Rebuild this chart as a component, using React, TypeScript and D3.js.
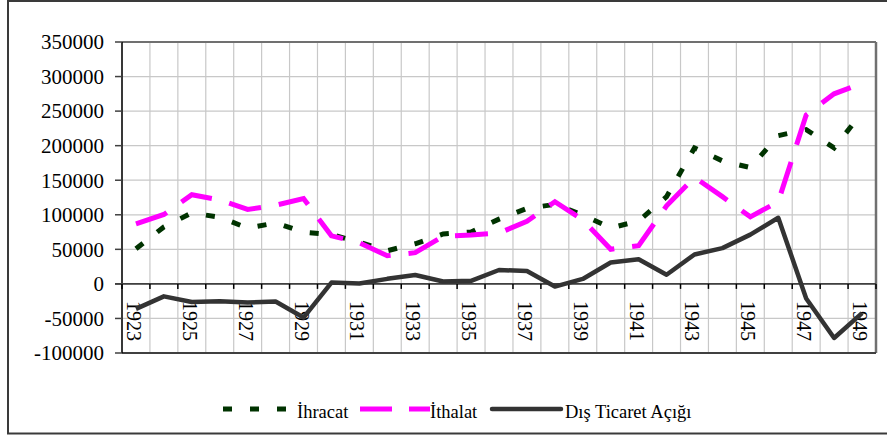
import React from "react";
import * as d3 from "d3";

const years: number[] = [
  1923, 1924, 1925, 1926, 1927, 1928, 1929, 1930, 1931, 1932, 1933, 1934, 1935, 1936,
  1937, 1938, 1939, 1940, 1941, 1942, 1943, 1944, 1945, 1946, 1947, 1948, 1949,
];
const ihracat: number[] = [
  50790, 82435, 102700, 96437, 80749, 88278, 74827, 71380, 60200, 48013, 58065, 72232,
  75000, 93647, 109214, 115024, 99643, 80904, 91056, 126115, 196734, 177952, 168264,
  214558, 223301, 196806, 247825,
];
const ithalat: number[] = [
  86872, 100462, 128953, 121411, 107752, 113710, 123558, 69540, 59500, 40718, 45177,
  68781, 70600, 73565, 90538, 118929, 92503, 50035, 55394, 112879, 154202, 126192, 97006,
  118923, 244360, 275053, 290224,
];
const disTicaret: number[] = [
  -36082, -18027, -26253, -24974, -27003, -25432, -48731, 1840, 700, 7295, 12888, 3451,
  4400, 20082, 18676, -3905, 7140, 30869, 35662, 13236, 42532, 51760, 71258, 95635,
  -21059, -78247, -42399,
];
const yTicks: number[] = [-100000, -50000, 0, 50000, 100000, 150000, 200000, 250000, 300000, 350000];
const xLabelYears: number[] = years.filter((_, i) => i % 2 === 0);
const legendLabels: string[] = ["İhracat", "İthalat", "Dış Ticaret Açığı"];

const W = 887;
const H = 437;
const left = 122;
const right = 876;
const top = 42;
const bottom = 353;
const fontStyle = { fontFamily: '"Liberation Serif", "Times New Roman", serif' };

export default function App() {
  const x = d3.scaleBand<number>().domain(years).range([left, right]).padding(0);
  const y = d3.scaleLinear().domain([-100000, 350000]).range([bottom, top]);
  const bw = x.bandwidth();
  const cx = (yr: number) => (x(yr) as number) + bw / 2;

  const mkLine = (vals: number[]) =>
    d3
      .line<number>()
      .x((_, i) => cx(years[i]))
      .y((v) => y(v))(vals) as string;

  const y0 = y(0);
  const boundaries = years.map((yr) => x(yr) as number).concat([right]);

  return (
    <svg
      width={W}
      height={H}
      style={{ position: "absolute", left: 0, top: 0, background: "#fff" }}
    >
      <rect x={0} y={0} width={W} height={H} fill="#fff" />
      {/* outer frame */}
      <rect x={8} y={1} width={890} height={432.5} fill="none" stroke="#3a3a3a" strokeWidth={2} />

      {/* horizontal gridlines */}
      {yTicks.map((t) => (
        <line key={"hg" + t} x1={left} x2={right} y1={y(t)} y2={y(t)} stroke="#c8c8c8" strokeWidth={1.2} />
      ))}
      {/* vertical gridlines */}
      {boundaries.map((bx, i) => (
        <line key={"vg" + i} x1={bx} x2={bx} y1={top} y2={bottom} stroke="#c8c8c8" strokeWidth={1.2} />
      ))}

      {/* plot border */}
      <line x1={left} x2={right} y1={top} y2={top} stroke="#707070" strokeWidth={2} />
      <line x1={right} x2={right} y1={top} y2={bottom} stroke="#707070" strokeWidth={2.5} />
      <line x1={left} x2={right} y1={bottom} y2={bottom} stroke="#404040" strokeWidth={2} />

      {/* y axis */}
      <line x1={left} x2={left} y1={top} y2={bottom} stroke="#000" strokeWidth={1.5} />
      {yTicks.map((t) => (
        <g key={"yt" + t}>
          <line x1={left - 7} x2={left} y1={y(t)} y2={y(t)} stroke="#404040" strokeWidth={1.5} />
          <text x={104} y={y(t)} dy="0.35em" textAnchor="end" fontSize={21} fill="#000" style={fontStyle}>
            {t}
          </text>
        </g>
      ))}

      {/* x axis at zero */}
      <line x1={left - 7} x2={right} y1={y0} y2={y0} stroke="#404040" strokeWidth={1.8} />
      {boundaries.map((bx, i) => (
        <line key={"xt" + i} x1={bx} x2={bx} y1={y0} y2={y0 + 5} stroke="#000" strokeWidth={1.5} />
      ))}
      {xLabelYears.map((yr) => (
        <text
          key={"xl" + yr}
          transform={`translate(${cx(yr) - 2},${y0 + 17}) rotate(90)`}
          dy="0.35em"
          textAnchor="start"
          fontSize={20}
          fill="#000"
          style={fontStyle}
        >
          {yr}
        </text>
      ))}

      {/* series */}
      <path d={mkLine(ihracat)} fill="none" stroke="#003300" strokeWidth={5} strokeDasharray="9,18" />
      <path d={mkLine(ithalat)} fill="none" stroke="#ff00ff" strokeWidth={5} strokeDasharray="33,18" />
      <path
        d={mkLine(disTicaret)}
        fill="none"
        stroke="#333333"
        strokeWidth={4.5}
        strokeLinejoin="round"
      />

      {/* legend */}
      <g>
        <line x1={223} x2={288} y1={409} y2={409} stroke="#003300" strokeWidth={5} strokeDasharray="9,18" />
        <text x={297} y={417.5} fontSize={18.5} fill="#000" style={fontStyle}>
          {legendLabels[0]}
        </text>
        <line x1={360} x2={430} y1={409} y2={409} stroke="#ff00ff" strokeWidth={5} strokeDasharray="32,17" />
        <text x={430} y={417.5} fontSize={18.5} fill="#000" style={fontStyle}>
          {legendLabels[1]}
        </text>
        <line x1={492} x2={561} y1={409} y2={409} stroke="#333333" strokeWidth={4.5} strokeLinecap="round" />
        <text x={565} y={417.5} fontSize={18.5} fill="#000" style={fontStyle}>
          {legendLabels[2]}
        </text>
      </g>
    </svg>
  );
}
